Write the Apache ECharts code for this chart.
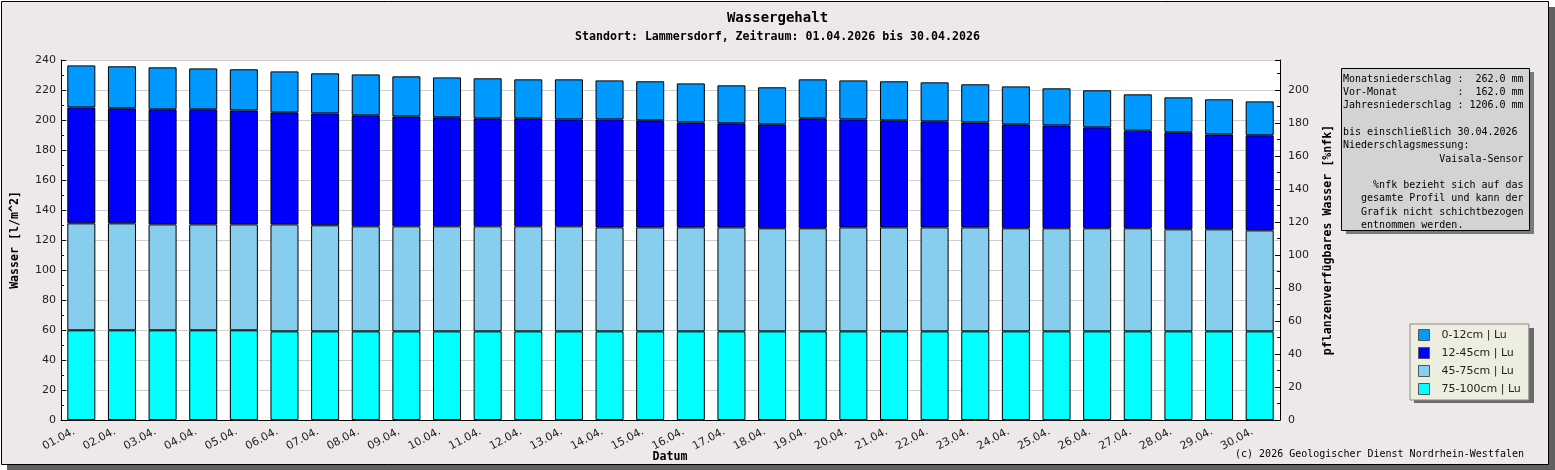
<!DOCTYPE html>
<html>
<head>
<meta charset="utf-8">
<title>Wassergehalt</title>
<script src="https://cdn.jsdelivr.net/npm/echarts@6/dist/echarts.min.js"></script>
<style>
  html, body { margin: 0; padding: 0; background: #fff; }
  #chart { width: 1555px; height: 470px; }
</style>
</head>
<body>
<div id="chart"></div>
<script>
// Tage (Kategorien)
const days = ['01.04.', '02.04.', '03.04.', '04.04.', '05.04.', '06.04.', '07.04.', '08.04.', '09.04.', '10.04.',
  '11.04.', '12.04.', '13.04.', '14.04.', '15.04.', '16.04.', '17.04.', '18.04.', '19.04.', '20.04.',
  '21.04.', '22.04.', '23.04.', '24.04.', '25.04.', '26.04.', '27.04.', '28.04.', '29.04.', '30.04.'];

// Wassergehalt je Schicht [l/m^2]
const layer0to12 = [28.0, 28.0, 28.0, 27.3, 27.4, 27.3, 26.7, 27.3, 26.7, 26.6,
  26.7, 26.0, 26.7, 26.0, 26.0, 26.0, 25.3, 24.7, 26.0, 26.0,
  26.0, 26.0, 25.4, 25.3, 24.7, 24.7, 24.2, 23.3, 23.4, 22.6];
const layer12to45 = [77.3, 76.7, 76.7, 76.7, 76.0, 74.7, 74.6, 74.0, 73.3, 72.7,
  72.0, 72.0, 71.3, 72.0, 71.4, 70.0, 69.4, 69.3, 73.3, 72.0,
  71.4, 70.7, 70.0, 69.3, 68.6, 67.3, 65.1, 64.7, 63.3, 63.4];
const layer45to75 = [71.3, 71.3, 70.6, 70.6, 70.6, 71.3, 70.7, 70.0, 70.0, 70.0,
  70.0, 70.0, 70.0, 69.3, 69.3, 69.3, 69.3, 68.7, 68.7, 69.3,
  69.3, 69.3, 69.3, 68.7, 68.7, 68.7, 68.7, 68.0, 68.0, 67.3];
const layer75to100 = [59.8, 59.8, 59.8, 59.8, 59.8, 59.1, 59.1, 59.1, 59.1, 59.1,
  59.1, 59.1, 59.1, 59.1, 59.1, 59.1, 59.1, 59.1, 59.1, 59.1,
  59.1, 59.1, 59.1, 59.1, 59.1, 59.1, 59.1, 59.1, 59.1, 59.1];

// Infobox rechts oben (Monospace, mit Leerzeichen ausgerichtet)
const infoLines = [
  'Monatsniederschlag :  262.0 mm',
  'Vor-Monat          :  162.0 mm',
  'Jahresniederschlag : 1206.0 mm',
  '',
  'bis einschließlich 30.04.2026',
  'Niederschlagsmessung:',
  '                Vaisala-Sensor',
  '',
  '     %nfk bezieht sich auf das',
  '   gesamte Profil und kann der',
  '   Grafik nicht schichtbezogen',
  '   entnommen werden.'
];

const MONO = '"DejaVu Sans Mono", "Liberation Mono", monospace';
const SANS = '"DejaVu Sans", sans-serif';

const myChart = echarts.init(document.getElementById('chart'), null, { renderer: 'canvas' });

// gemeinsame Balken-Einstellungen
function barSeries(name, data, color) {
  return {
    name: name,
    type: 'bar',
    stack: 'profil',
    barWidth: '69%',
    data: data,
    itemStyle: { color: color, borderColor: '#000', borderWidth: 1 },
    emphasis: { disabled: true }
  };
}

const options = {
  animation: false,
  title: [
    {
      text: 'Wassergehalt',
      left: 'center',
      top: 6,
      textStyle: { fontFamily: MONO, fontWeight: 'bold', fontSize: 14, color: '#000' }
    },
    {
      text: 'Standort: Lammersdorf, Zeitraum: 01.04.2026 bis 30.04.2026',
      left: 'center',
      top: 26,
      textStyle: { fontFamily: MONO, fontWeight: 'bold', fontSize: 11.6, color: '#000' }
    }
  ],
  legend: {
    orient: 'vertical',
    left: 1410,
    top: 324,
    padding: [5, 8, 5, 8],
    icon: 'rect',
    itemWidth: 11,
    itemHeight: 11,
    itemGap: 6,
    backgroundColor: '#eeeee0',
    borderColor: '#8a8a8a',
    borderWidth: 1,
    selectedMode: false,
    data: ['0-12cm | Lu', '12-45cm | Lu', '45-75cm | Lu', '75-100cm | Lu'],
    itemStyle: { borderColor: '#555', borderWidth: 1 },
    textStyle: { fontFamily: SANS, fontSize: 11, color: '#222', padding: [0, 0, 0, 7] }
  },
  grid: {
    left: 61,
    right: 275,
    top: 60,
    bottom: 50,
    outerBoundsMode: 'none',
    containLabel: false,
    show: true,
    backgroundColor: '#fff',
    borderWidth: 0
  },
  xAxis: {
    type: 'category',
    data: days,
    axisLine: { lineStyle: { color: '#000', width: 1 } },
    axisTick: { inside: true, length: 5, lineStyle: { color: '#000' } },
    axisLabel: {
      rotate: 28,
      margin: 7,
      padding: [0, 8, 0, 0],
      fontFamily: SANS,
      fontSize: 11,
      color: '#222'
    }
  },
  yAxis: [
    {
      type: 'value',
      min: 0,
      max: 240,
      interval: 20,
      name: 'Wasser [l/m^2]',
      nameLocation: 'middle',
      nameRotate: 90,
      nameGap: 40,
      nameTextStyle: { fontFamily: MONO, fontWeight: 'bold', fontSize: 11.6, color: '#000' },
      axisLine: { show: true, lineStyle: { color: '#000' } },
      axisTick: { show: true, inside: true, length: 5, lineStyle: { color: '#000' } },
      minorTick: { show: true, splitNumber: 2, length: 3, lineStyle: { color: '#000' } },
      axisLabel: { fontFamily: SANS, fontSize: 11, color: '#222', margin: 5 },
      splitLine: { show: true, lineStyle: { color: '#cfcfcf', width: 1 } }
    },
    {
      type: 'value',
      position: 'right',
      min: 0,
      max: 218.18,
      interval: 20,
      name: 'pflanzenverfügbares Wasser [%nfk]',
      nameLocation: 'middle',
      nameRotate: 90,
      nameGap: 42,
      nameTextStyle: { fontFamily: MONO, fontWeight: 'bold', fontSize: 11.6, color: '#000' },
      axisLine: { show: true, lineStyle: { color: '#000' } },
      axisTick: { show: true, inside: true, length: 5, lineStyle: { color: '#000' } },
      minorTick: { show: true, splitNumber: 2, length: 3, lineStyle: { color: '#000' } },
      axisLabel: { fontFamily: SANS, fontSize: 11, color: '#222', margin: 8, showMaxLabel: false },
      splitLine: { show: false }
    }
  ],
  series: [
    barSeries('75-100cm | Lu', layer75to100, '#00ffff'),
    barSeries('45-75cm | Lu', layer45to75, '#87ceee'),
    barSeries('12-45cm | Lu', layer12to45, '#0000ff'),
    barSeries('0-12cm | Lu', layer0to12, '#0099ff')
  ],
  graphic: [
    // Rahmen mit Schatten
    { type: 'rect', z: -10, silent: true, shape: { x: 7, y: 7, width: 1548, height: 463 }, style: { fill: '#606060' } },
    { type: 'rect', z: -9, silent: true, shape: { x: 1.5, y: 1.5, width: 1547, height: 463 }, style: { fill: '#ece9e8', stroke: '#000', lineWidth: 1 } },
    // Schatten der Legende
    { type: 'rect', z: 1, silent: true, shape: { x: 1414, y: 328, width: 120, height: 75 }, style: { fill: '#6a6a6a' } },
    // Infobox
    { type: 'rect', z: 5, silent: true, shape: { x: 1346, y: 72, width: 188, height: 162 }, style: { fill: '#7a7a7a' } },
    { type: 'rect', z: 6, silent: true, shape: { x: 1341.5, y: 68.5, width: 188, height: 162 }, style: { fill: '#d3d3d3', stroke: '#000', lineWidth: 1 } },
    {
      type: 'text',
      z: 7,
      silent: true,
      left: 1343,
      top: 72.5,
      style: {
        text: infoLines.join('\n'),
        font: '10px ' + MONO,
        lineHeight: 13.3,
        fill: '#000'
      }
    },
    // x-Achsentitel
    {
      type: 'text',
      z: 7,
      silent: true,
      x: 670,
      y: 457,
      style: {
        text: 'Datum',
        font: 'bold 11.6px ' + MONO,
        fill: '#000',
        align: 'center',
        verticalAlign: 'middle'
      }
    },
    // Copyright
    {
      type: 'text',
      z: 7,
      silent: true,
      right: 31,
      top: 449,
      style: { text: '(c) 2026 Geologischer Dienst Nordrhein-Westfalen', font: '10px ' + MONO, fill: '#000' }
    }
  ]
};

myChart.setOption(options, true);
</script>
</body>
</html>
